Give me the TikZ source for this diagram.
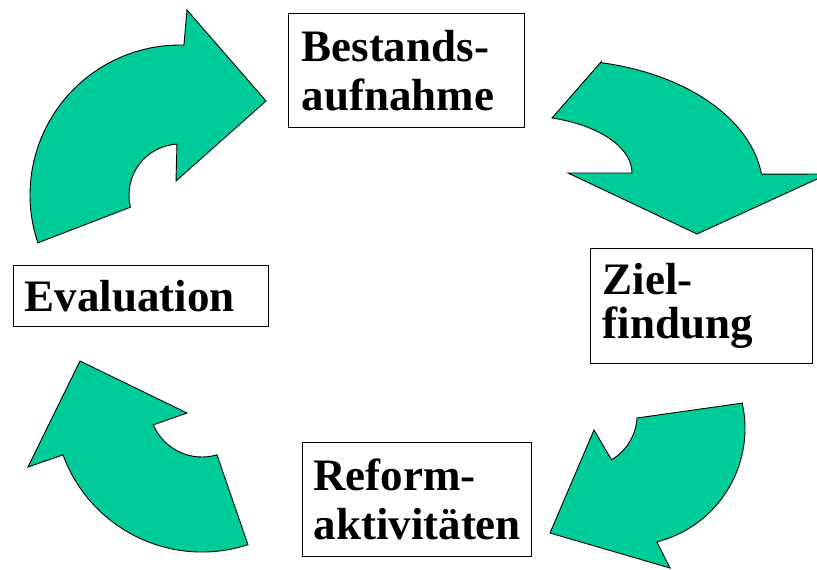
\documentclass[tikz,border=0pt]{standalone}
\usepackage{fontspec}
\setmainfont{Liberation Serif}
\hyphenpenalty=10000
\exhyphenpenalty=10000
\definecolor{arrgreen}{RGB}{0,204,153}
\tikzset{
  arr/.style={fill=arrgreen, draw=black, line width=0.9pt, line join=miter},
  lbl/.style={draw=black, line width=1pt, fill=white, rectangle, anchor=north west,
    inner ysep=0pt, align=left, font=\bfseries\fontsize{45}{49}\selectfont}
}
\begin{document}
\begin{tikzpicture}[x=1pt,y=-1pt]
\path[use as bounding box] (0,0) rectangle (817,570);
\clip (0,0) rectangle (817,570);

% arrow 1 (top left, pointing right)
\filldraw[arr] ([shift={(180,195)}]161.4:150) arc[start angle=161.4, end angle=271.5, radius=150]
  -- (187,10) -- (266,101) -- (176,181)
  -- ([shift={(180,195)}]266.6:51) arc[start angle=266.6, end angle=166.2, radius=51] -- cycle;

% arrow 2 (top right, pointing down)
\filldraw[arr] (601,62) -- (552,118)
  arc[start angle=-73.4, end angle=0, x radius=112, y radius=57.4]
  -- (568,173) -- (697,234) -- (828,174)
  -- ([shift={(560,190)}]-7:203 and 130) arc[start angle=-7, end angle=-78.4, x radius=203, y radius=130] -- cycle;

% arrow 3 (bottom right, pointing down-left)
\filldraw[arr] (743,403) -- (637,418)
  arc[start angle=3.3, end angle=59.4, radius=52]
  -- (594,430) -- (550,533) -- (670,568)
  -- ([shift={(628,428.5)}]75.7:117) arc[start angle=75.7, end angle=-12.5, radius=117] -- cycle;

% arrow 4 (bottom left, pointing up)
\filldraw[arr] ([shift={(202,404)}]71.9:148) arc[start angle=71.9, end angle=159.9, radius=148]
  -- (28,467) -- (80,361) -- (187,413)
  -- ([shift={(202,404)}]156.8:53) arc[start angle=156.8, end angle=73.6, radius=53] -- cycle;

% labels
\node[lbl, minimum width=236pt, minimum height=114pt, inner xsep=13pt, text width=210pt]
  (bestand) at (288,13) {Bestands-\\aufnahme};
\node[lbl, minimum width=222pt, minimum height=115pt, inner xsep=12pt, text width=198pt,
  font=\bfseries\fontsize{45}{44}\selectfont]
  (ziel) at (590,248) {Ziel-\\findung};
\node[lbl, minimum width=255pt, minimum height=61pt, inner xsep=11pt, text width=233pt]
  (eval) at (13,265) {Evaluation};
\node[lbl, minimum width=229pt, minimum height=114pt, inner xsep=11pt, text width=207pt]
  (reform) at (302,442) {Reform-\\aktivitäten};
\end{tikzpicture}
\end{document}
